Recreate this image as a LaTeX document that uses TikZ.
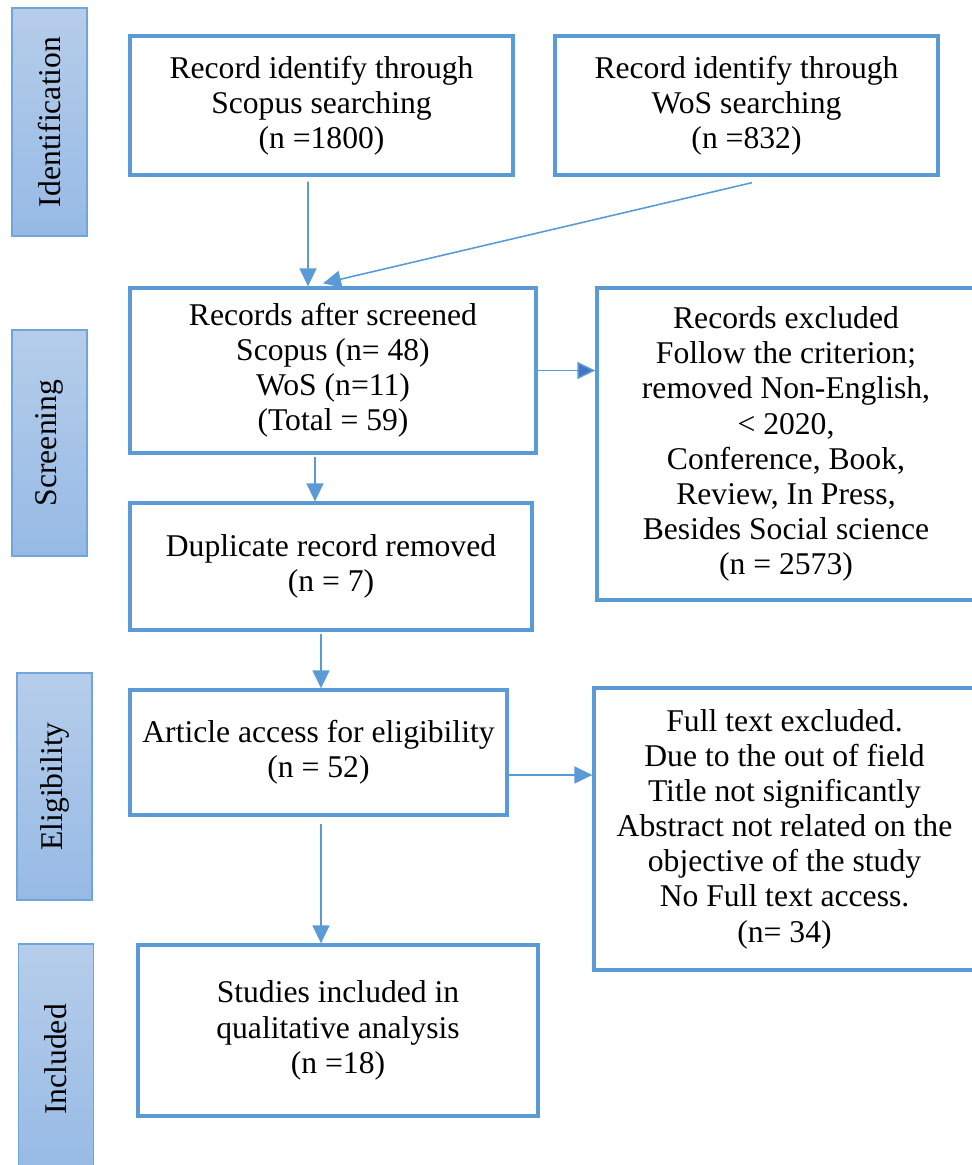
\documentclass[tikz,border=0pt]{standalone}
\usepackage{fontspec}
\setmainfont{Liberation Serif}
\usetikzlibrary{arrows.meta}

\definecolor{boxblue}{HTML}{5B9BD5}
\definecolor{tipblue}{HTML}{4472C4}
\definecolor{barline}{HTML}{6FA5DC}
\definecolor{bartop}{HTML}{B6CDEA}
\definecolor{barbot}{HTML}{96BAE5}

\begin{document}
\begin{tikzpicture}[box/.style={draw=boxblue, line width=1.9pt, align=center, inner sep=0pt, font=\fontsize{18}{20}\selectfont},
	phase/.style={draw=barline, line width=1pt, rotate=90, minimum height=1.5cm, inner sep=0pt, top color=bartop, bottom color=barbot, font=\fontsize{18}{20}\selectfont},
	flow/.style={draw=boxblue, line width=0.9pt, -{Triangle[length=3.6mm,width=3.4mm]}}]
					\useasboundingbox (0,0) rectangle (19.44,-23.30);
					
					% phases on the left
					\node[phase, minimum width=4.56cm] (iden) at (0.99,-2.44){Identification};
					\node[phase, minimum width=4.52cm] (scre) at (0.99,-8.86){Screening};
					\node[phase, minimum width=4.54cm] (elig) at (1.09,-15.73){Eligibility};
					\node[phase, minimum width=4.62cm] (incl) at (1.12,-21.19){Included};
					
					\node[box, minimum width=7.66cm, minimum height=2.78cm] (scopus) at (6.43,-2.11){Record identify through\\Scopus searching\\(n =1800)};
					\node[box, minimum width=7.66cm, minimum height=2.78cm] (wos) at (14.93,-2.11){Record identify through\\WoS searching\\(n =832)};
					\node[box, minimum width=8.12cm, minimum height=3.3cm] (screened) at (6.66,-7.41){Records after screened\\Scopus (n= 48)\\WoS (n=11)\\(Total = 59)};
					\node[box, minimum width=7.56cm, minimum height=6.24cm] (excl) at (15.72,-8.88){Records excluded\\Follow the criterion;\\removed Non-English,\\< 2020,\\Conference, Book,\\Review, In Press,\\Besides Social science\\(n = 2573)};
					\node[box, minimum width=8.04cm, minimum height=2.54cm] (dupl) at (6.62,-11.33){Duplicate record removed\\(n = 7)};
					\node[box, minimum width=7.54cm, minimum height=2.5cm] (access) at (6.37,-15.05){Article access for eligibility\\(n = 52)};
					\node[box, minimum width=7.62cm, minimum height=5.64cm] (fulltext) at (15.69,-16.58){Full text excluded.\\Due to the out of field\\Title not significantly\\Abstract not related on the\\objective of the study\\No Full text access.\\(n= 34)};
					\node[box, minimum width=8.0cm, minimum height=3.42cm] (studies) at (6.76,-20.61){Studies included in\\qualitative analysis\\(n =18)};
					
					\draw[flow] ([xshift=-0.27cm,yshift=-0.1cm]scopus.south) -- ([xshift=-0.5cm]screened.north);
					\draw[flow] ([xshift=0.11cm,yshift=-0.12cm]wos.south) -- ([xshift=-0.2cm,yshift=0.06cm]screened.north);
					\draw[flow, -{Triangle[length=3.6mm,width=3.4mm,fill=tipblue]}] (screened.east) -- (screened.east -| excl.west);
					\draw[flow] ([xshift=-0.36cm,yshift=-0.04cm]screened.south) -- ([xshift=-0.36cm]screened.south |- dupl.north);
					\draw[flow] ([xshift=-0.2cm,yshift=-0.04cm]dupl.south) -- ([xshift=-0.2cm]dupl.south |- access.north);
					\draw[flow] ([yshift=-0.45cm]access.east) -- ([yshift=-0.45cm]access.east -| fulltext.west);
					\draw[flow] ([xshift=0.05cm,yshift=-0.14cm]access.south) -- ([xshift=0.05cm]access.south |- studies.north);
					\end{tikzpicture}
\end{document}
